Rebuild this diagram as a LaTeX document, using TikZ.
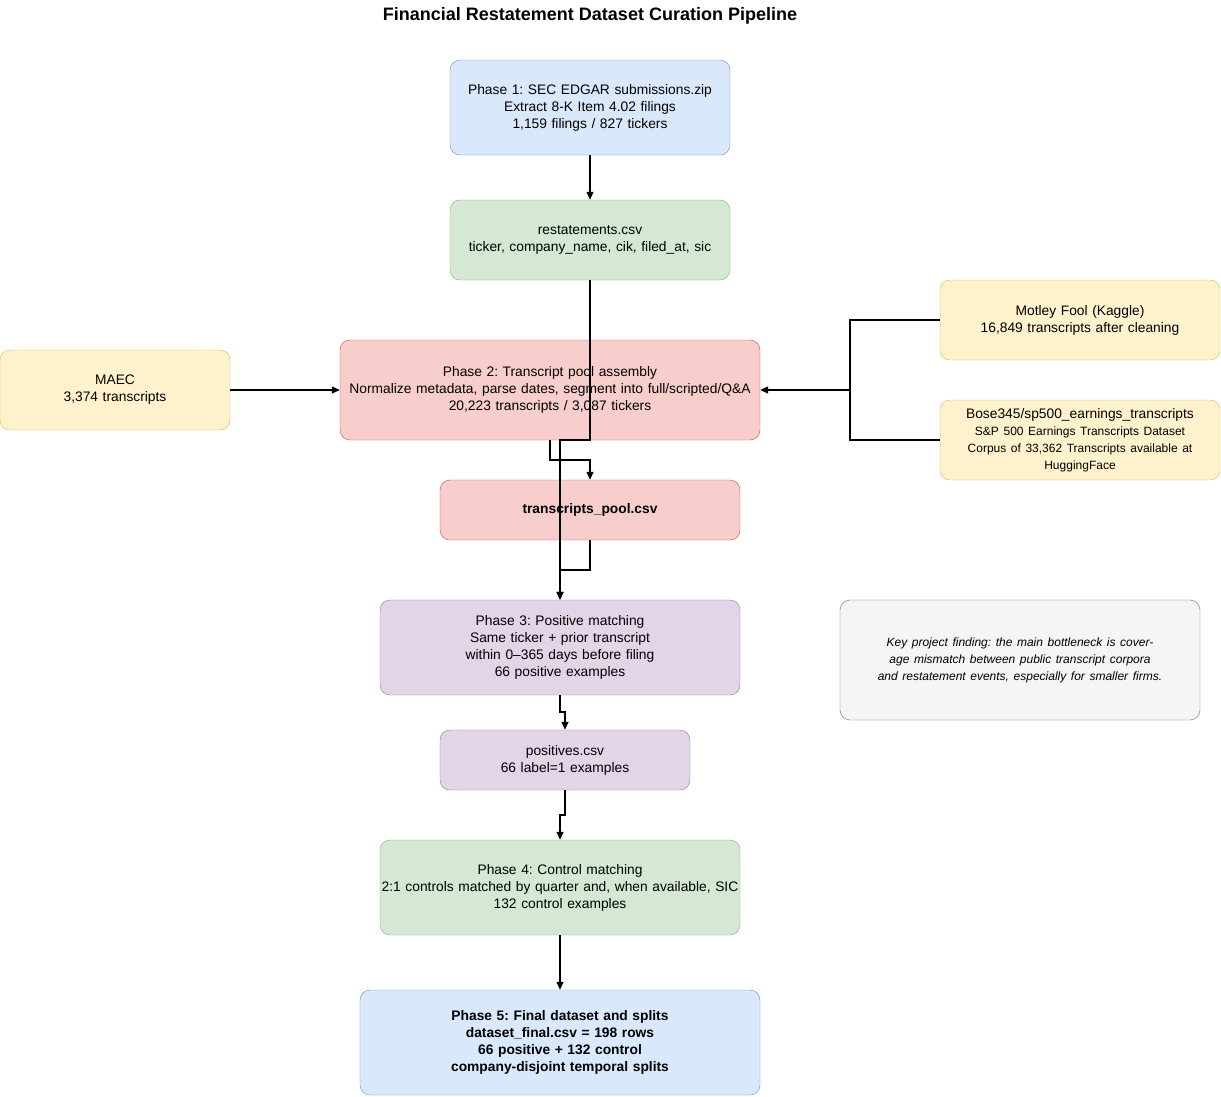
\documentclass[tikz,border=0pt]{standalone}
\usepackage{fontspec}
\setmainfont{Liberation Sans}
\usetikzlibrary{arrows.meta}
\definecolor{bF}{HTML}{DAE8FC}\definecolor{bD}{HTML}{6C8EBF}
\definecolor{gF}{HTML}{D5E8D4}\definecolor{gD}{HTML}{82B366}
\definecolor{rF}{HTML}{F8CECC}\definecolor{rD}{HTML}{B85450}
\definecolor{yF}{HTML}{FFF2CC}\definecolor{yD}{HTML}{D6B656}
\definecolor{pF}{HTML}{E1D5E7}\definecolor{pD}{HTML}{9673A6}
\definecolor{kF}{HTML}{F5F5F5}\definecolor{kD}{HTML}{666666}
\frenchspacing
\begin{document}
\begin{tikzpicture}[x=1pt,y=-1pt,
 box/.style={draw, rounded corners=10pt, align=center, font=\fontsize{13.8}{17}\selectfont, inner sep=0pt},
 blue/.style={box, fill=bF, draw=bD}, green/.style={box, fill=gF, draw=gD},
 red/.style={box, fill=rF, draw=rD}, yel/.style={box, fill=yF, draw=yD},
 pur/.style={box, fill=pF, draw=pD}, gray/.style={box, fill=kF, draw=kD},
 conn/.style={line width=1.3pt, -{Triangle[length=8pt,width=7pt]}},
 line/.style={line width=1.3pt}]
\useasboundingbox (0,0) rectangle (1221,1096);
\node[font=\bfseries\fontsize{18}{21}\selectfont] (title) at (590,16) {Financial Restatement Dataset Curation Pipeline};
\newcommand{\bx}[7]{\node[#1, minimum width=#4pt, minimum height=#5pt, text width=#6pt] (#2) at (#3) {#7};}
\bx{blue}{p1}{590,107.5}{280}{95}{278}{Phase 1: SEC EDGAR submissions.zip\\Extract 8-K Item 4.02 filings\\1,159 filings / 827 tickers}
\bx{green}{rs}{590,240}{280}{80}{278}{restatements.csv\\ticker, company\_name, cik, filed\_at, sic}
\bx{red}{p2}{550,390}{420}{100}{418}{Phase 2: Transcript pool assembly\\Normalize metadata, parse dates, segment into full/scripted/Q\&A\\20,223 transcripts / 3,087 tickers}
\bx{red}{tp}{590,510}{300}{60}{298}{\textbf{transcripts\_pool.csv}}
\bx{yel}{ma}{115,390}{230}{80}{228}{MAEC\\3,374 transcripts}
\bx{yel}{mf}{1080,320}{280}{80}{278}{Motley Fool (Kaggle)\\16,849 transcripts after cleaning}
\bx{yel}{bo}{1080,440}{280}{80}{278}{Bose345/sp500\_earnings\_transcripts\\{\fontsize{12}{17}\selectfont S\&P 500 Earnings Transcripts Dataset\\Corpus of 33,362 Transcripts available at\\HuggingFace}}
\bx{pur}{p3}{560,647.5}{360}{95}{355}{Phase 3: Positive matching\\Same ticker + prior transcript within 0–365 days before filing\\66 positive examples}
\bx{pur}{po}{565,760}{250}{60}{248}{positives.csv\\66 label=1 examples}
\bx{gray}{key}{1020,660}{360}{120}{358}{\itshape\fontsize{12}{17}\selectfont\hyphenpenalty=10000 Key project finding: the main bottleneck is coverage mismatch between public transcript corpora and restatement events, especially for smaller firms.}
\bx{green}{p4}{560,887.5}{360}{95}{360}{Phase 4: Control matching\\2:1 controls matched by quarter and, when available, SIC\\132 control examples}
\bx{blue}{p5}{560,1042.5}{400}{105}{398}{\bfseries Phase 5: Final dataset and splits\\dataset\_final.csv = 198 rows\\66 positive + 132 control\\company-disjoint temporal splits}
\coordinate (j) at (850,390);
\draw[conn] (p1.south) -- (rs.north);
\draw[conn] (rs.south) -- (590,440) -- (560,440) -- (p3.north);
\draw[conn] (550,440) -- (550,460) -- (590,460) -- (tp.north);
\draw[conn] (tp.south) -- (590,570) -- (560,570) -- (p3.north);
\draw[conn] (p3.south) -- (560,712) -- (565,712) -- (po.north);
\draw[conn] (po.south) -- (565,815) -- (560,815) -- (p4.north);
\draw[conn] (p4.south) -- (p5.north);
\draw[conn] (ma.east) -- (p2.west);
\draw[conn] (mf.west) -- (mf.west -| j) -- (j) -- (p2.east);
\draw[line] (bo.west) -- (bo.west -| j) -- (j);
\end{tikzpicture}
\end{document}
